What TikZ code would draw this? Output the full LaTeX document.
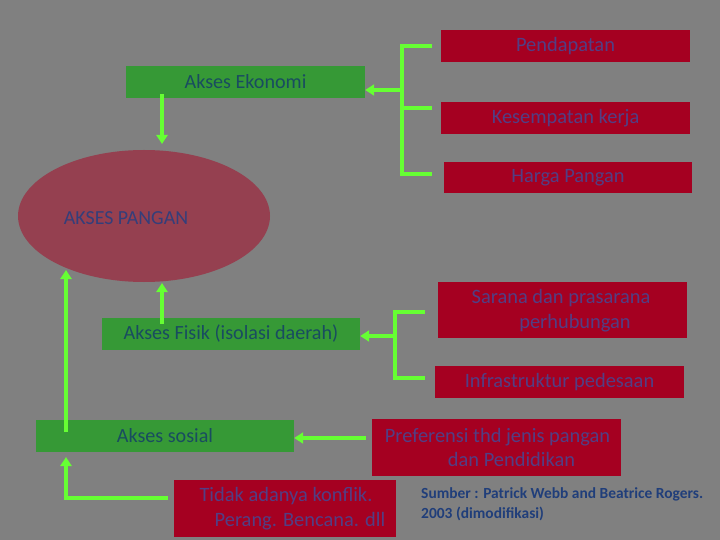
\documentclass[tikz,border=0pt]{standalone}
\usepackage{fontspec}
\setmainfont{Carlito}
\usetikzlibrary{arrows.meta,calc}
\definecolor{bg}{RGB}{128,128,128}
\definecolor{redbox}{RGB}{165,0,33}
\definecolor{greenbox}{RGB}{54,153,54}
\definecolor{redtxt}{RGB}{82,62,132}
\definecolor{greentxt}{RGB}{25,76,96}
\definecolor{ellfill}{RGB}{149,64,80}
\definecolor{elltxt}{RGB}{52,62,122}
\definecolor{srctxt}{RGB}{32,62,122}
\definecolor{lgreen}{RGB}{102,255,51}
\tikzset{
  redn/.style={fill=redbox,draw=none,inner sep=0pt,text=redtxt,font=\fontsize{20.5}{25}\selectfont,align=center},
  redt/.style={text=redtxt,font=\fontsize{20.5}{25}\selectfont,align=center,inner sep=0pt},
  greenn/.style={fill=greenbox,draw=none,inner sep=0pt,text=greentxt,font=\fontsize{20.2}{23}\selectfont},
  conn/.style={draw=lgreen,line width=3.5bp},
  arr/.style={conn,-{Triangle[width=11bp,length=9bp]}},
}
\begin{document}
\begin{tikzpicture}[x=1bp,y=-1bp]
\fill[bg] (0,0) rectangle (720,540);
\useasboundingbox (0,0) rectangle (720,540);
% red boxes
\node[redn,minimum width=249bp,minimum height=32bp] (pend) at (565.5,46) {Pendapatan};
\node[redn,minimum width=249bp,minimum height=32bp] (kes) at (565.5,118) {Kesempatan kerja};
\node[redn,minimum width=248bp,minimum height=31bp] (harga) at (568,177.5) {Harga Pangan};
\node[redn,minimum width=249bp,minimum height=56bp] (sarana) at (562.5,310) {};
\node[redt] (saranat) at (561,311) {Sarana dan prasarana\\\hspace*{28bp}perhubungan};
\node[redn,minimum width=249bp,minimum height=32bp] (infra) at (559.5,382) {Infrastruktur pedesaan};
\node[redn,minimum width=249bp,minimum height=57bp] (pref) at (496.5,447.5) {};
\node[redt] (preft) at (497.5,447.5) {Preferensi thd jenis pangan\\\hspace*{28bp}dan Pendidikan};
\node[redn,minimum width=222bp,minimum height=57bp] (tidak) at (285,508.5) {};
\node[redt] (tidakt) at (286,508.5) {Tidak adanya konflik.\\\hspace*{28bp}Perang. Bencana. dll};
% green boxes
\node[greenn,minimum width=239bp,minimum height=32bp] (eko) at (245.5,82) {Akses Ekonomi};
\node[greenn,minimum width=258bp,minimum height=32bp] (fisik) at (231,334) {Akses Fisik (isolasi daerah)};
\node[greenn,minimum width=258bp,minimum height=32bp] (sosial) at (165,436) {Akses sosial};
% ellipse
\fill[ellfill] (144,216) ellipse [x radius=126, y radius=66];
\node[text=elltxt,font=\fontsize{20}{24}\selectfont] (ap) at (126,218) {AKSES PANGAN};
% source
\node[text=srctxt,font=\bfseries\fontsize{15.5}{20}\selectfont,align=left,anchor=north west,inner sep=0pt] (src) at (421,487.5) {Sumber : Patrick Webb and Beatrice Rogers.\\2003 (dimodifikasi)};
% bracket top
\coordinate (b1) at (402,90);
\draw[conn] ([xshift=-9bp]pend.west) -- (402,46) -- (402,174) -- ([xshift=-12bp]harga.west |- 0,174);
\draw[conn] ([xshift=-9bp]kes.west |- 0,108) -- (402,108);
\draw[arr] (b1) -- (eko.east |- b1);
% bracket middle
\coordinate (b2) at (395,336);
\draw[conn] ([xshift=-13bp]sarana.west |- 0,312) -- (395,312) -- (395,378) -- ([xshift=-10bp]infra.west |- 0,378);
\draw[arr] (b2) -- (fisik.east |- b2);
% arrows to ellipse
\coordinate (e1) at (162,144);
\coordinate (e2) at (162,283);
\coordinate (e3) at (66,270);
\draw[arr] ([yshift=4bp]eko.south -| e1) -- (e1);
\draw[arr] ([yshift=-6bp]fisik.north -| e2) -- (e2);
\draw[arr] ([yshift=-12bp]sosial.north -| e3) -- (e3);
% to akses sosial
\draw[arr] ([xshift=-6bp]pref.west |- 0,438) -- (sosial.east |- 0,438);
\coordinate (s1) at (66,457);
\draw[arr] ([xshift=-6bp]tidak.west |- 0,498) -| (s1);
\end{tikzpicture}
\end{document}
